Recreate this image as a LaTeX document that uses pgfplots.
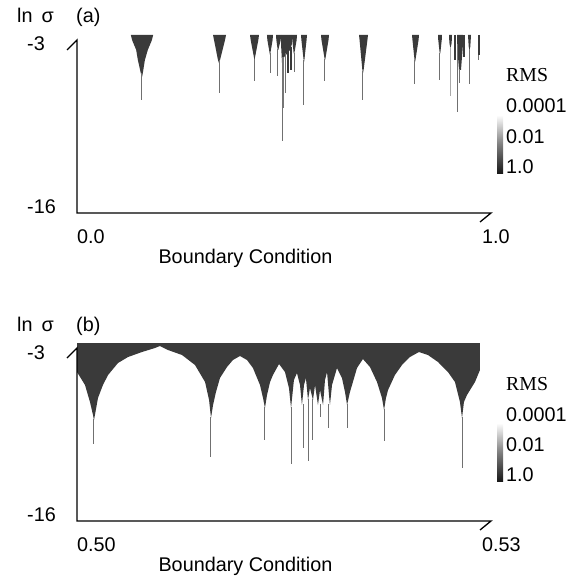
\documentclass[border=0pt]{standalone}
\usepackage{pgfplots}
\pgfplotsset{compat=1.18}
\usepackage{fontspec}
\setmainfont{Liberation Sans}
\newfontfamily\seriffont{Liberation Serif}
\definecolor{ice}{HTML}{3A3A3A}
\definecolor{needle}{HTML}{707070}
\pgfplotsset{
  panel/.style={anchor=south west, scale only axis, width=414pt, height=178pt,
    ymin=-16, ymax=-2.624, axis lines=none, ticks=none, enlargelimits=false},
  solid/.style={draw=none, fill=ice, mark=none},
  ndl/.style={needle, line width=1pt, mark=none},
}
\begin{document}
\fontsize{19.8}{23}\selectfont
\begin{tikzpicture}
\path (0pt,0pt) rectangle (579pt,-578pt);
% ---------------- panel (a)
\begin{axis}[panel, at={(77pt,-213pt)}, xmin=0, xmax=1]
\addplot[solid] coordinates {(0.130,-2.624) (0.184,-2.624) (0.181,-3.0) (0.171,-3.75) (0.164,-4.50) (0.159,-5.48) (0.157,-5.78) (0.154,-5.48) (0.147,-4.50) (0.143,-3.75) (0.133,-3.0) (0.130,-2.624)};
\addplot[ndl] coordinates {(0.157,-5.5) (0.157,-7.51)};
\addplot[solid] coordinates {(0.3285,-2.624) (0.3599,-2.624) (0.3575,-3.0) (0.3455,-4.5) (0.3430,-4.73) (0.3405,-4.5) (0.331,-3.0) (0.3285,-2.624)};
\addplot[ndl] coordinates {(0.3430,-4.5) (0.3430,-6.98)};
\addplot[solid] coordinates {(0.4179,-2.624) (0.4396,-2.624) (0.4380,-3.0) (0.4300,-4.3) (0.4287,-4.50) (0.4274,-4.3) (0.4195,-3.0) (0.4179,-2.624)};
\addplot[ndl] coordinates {(0.4287,-4.4) (0.4287,-6.08)};
\addplot[solid] coordinates {(0.4589,-2.624) (0.4734,-2.624) (0.4725,-3.0) (0.4670,-4.0) (0.4662,-4.13) (0.4654,-4.0) (0.4598,-3.0) (0.4589,-2.624)};
\addplot[ndl] coordinates {(0.4662,-4.0) (0.4662,-5.48)};
\addplot[solid] coordinates {(0.4807,-2.624) (0.4928,-2.624) (0.4920,-3.0) (0.4862,-3.75) (0.4848,-3.75) (0.4815,-3.0) (0.4807,-2.624)};
\addplot[ndl] coordinates {(0.4855,-3.7) (0.4855,-5.71)};
\addplot[solid] coordinates {(0.4928,-2.624) (0.5193,-2.624) (0.5193,-3.3) (0.5145,-3.75) (0.5000,-4.3) (0.4976,-4.73) (0.4952,-4.73) (0.4928,-3.3) (0.4928,-2.624)};
\addplot[ndl] coordinates {(0.4952,-4.6) (0.4952,-10.59)};
\addplot[ice!70, line width=2pt, mark=none] coordinates {(0.4985,-4.3) (0.4985,-8.11)};
\addplot[ndl] coordinates {(0.5048,-4.0) (0.5048,-6.98)};
\addplot[ice, line width=1.5pt, mark=none] coordinates {(0.5097,-3.7) (0.5097,-5.48)};
\addplot[ice, line width=1.5pt, mark=none] coordinates {(0.5169,-3.5) (0.5169,-5.25)};
\addplot[solid] coordinates {(0.5193,-2.624) (0.5314,-2.624) (0.5305,-3.0) (0.5250,-4.0) (0.5234,-4.0) (0.5200,-3.0) (0.5193,-2.624)};
\addplot[ndl] coordinates {(0.5242,-4.0) (0.5242,-5.40)};
\addplot[solid] coordinates {(0.5411,-2.624) (0.5556,-2.624) (0.5545,-3.0) (0.5492,-4.5) (0.5483,-4.65) (0.5474,-4.5) (0.5420,-3.0) (0.5411,-2.624)};
\addplot[ndl] coordinates {(0.5483,-4.5) (0.5483,-7.88)};
\addplot[solid] coordinates {(0.5894,-2.624) (0.6087,-2.624) (0.6075,-3.0) (0.6000,-4.4) (0.5990,-4.50) (0.5980,-4.4) (0.5905,-3.0) (0.5894,-2.624)};
\addplot[ndl] coordinates {(0.5990,-4.4) (0.5990,-6.08)};
\addplot[solid] coordinates {(0.6812,-2.624) (0.7029,-2.624) (0.7015,-3.0) (0.6925,-5.2) (0.6908,-5.48) (0.6891,-5.2) (0.6825,-3.0) (0.6812,-2.624)};
\addplot[ndl] coordinates {(0.6908,-5.3) (0.6908,-7.51)};
\addplot[solid] coordinates {(0.8092,-2.624) (0.8261,-2.624) (0.8250,-3.0) (0.8175,-4.5) (0.8164,-4.65) (0.8153,-4.5) (0.8103,-3.0) (0.8092,-2.624)};
\addplot[ndl] coordinates {(0.8164,-4.5) (0.8164,-6.31)};
\addplot[solid] coordinates {(0.8720,-2.624) (0.8816,-2.624) (0.8810,-3.0) (0.8775,-4.0) (0.8761,-4.0) (0.8726,-3.0) (0.8720,-2.624)};
\addplot[ndl] coordinates {(0.8768,-4.0) (0.8768,-6.01)};
\addplot[solid] coordinates {(0.8986,-2.624) (0.9058,-2.624) (0.9050,-3.2) (0.9030,-3.53) (0.9014,-3.53) (0.8994,-3.2) (0.8986,-2.624)};
\addplot[needle!60, line width=1pt, mark=none] coordinates {(0.9022,-3.5) (0.9022,-7.21)};
\addplot[ice, line width=1.8pt, mark=none] coordinates {(0.9130,-2.624) (0.9130,-4.50)};
\addplot[solid] coordinates {(0.9179,-2.624) (0.9324,-2.624) (0.9324,-3.3) (0.9275,-5.25) (0.9227,-5.25) (0.9179,-3.3) (0.9179,-2.624)};
\addplot[ndl] coordinates {(0.9185,-3.3) (0.9185,-8.41)};
\addplot[ndl] coordinates {(0.9251,-5.2) (0.9251,-6.23)};
\addplot[ice, line width=2pt, mark=none] coordinates {(0.9348,-2.624) (0.9348,-4.28)};
\addplot[solid] coordinates {(0.9444,-2.624) (0.9517,-2.624) (0.9500,-3.5) (0.9481,-3.75) (0.9462,-3.5) (0.9444,-2.624)};
\addplot[ndl] coordinates {(0.9481,-3.7) (0.9481,-6.31)};
\addplot[ice, line width=2pt, mark=none] coordinates {(0.9710,-2.624) (0.9710,-4.13)};
\addplot[ndl] coordinates {(0.9710,-4.1) (0.9710,-4.50)};
\end{axis}
% ---------------- panel (b)
\begin{axis}[panel, at={(77pt,-521pt)}, xmin=0.50, xmax=0.53]
\addplot[solid] coordinates {
(0.50000,-2.624) (0.50000,-4.803) (0.50058,-5.780) (0.50094,-7.058) (0.50116,-8.035) (0.50123,-8.410)
(0.50130,-8.035) (0.50152,-6.757) (0.50188,-5.780) (0.50225,-5.029) (0.50297,-4.127) (0.50370,-3.676)
(0.50471,-3.301) (0.50565,-3.000) (0.50601,-2.850) (0.50659,-3.150) (0.50761,-3.526) (0.50855,-4.277)
(0.50928,-5.555) (0.50957,-6.907) (0.50971,-8.260) (0.50986,-7.283) (0.51007,-6.306) (0.51036,-5.254)
(0.51087,-4.428) (0.51130,-3.902) (0.51181,-3.601) (0.51232,-3.902) (0.51275,-4.503) (0.51326,-5.780)
(0.51348,-6.757) (0.51362,-7.509) (0.51377,-6.532) (0.51399,-5.555) (0.51420,-5.029) (0.51464,-4.202)
(0.51507,-4.803) (0.51536,-6.006) (0.51551,-7.509) (0.51572,-5.405) (0.51594,-4.879) (0.51616,-5.780)
(0.51630,-7.283) (0.51645,-5.780) (0.51659,-5.254) (0.51674,-6.907) (0.51688,-6.006) (0.51710,-6.907)
(0.51725,-5.780) (0.51746,-7.283) (0.51761,-6.156) (0.51783,-7.283) (0.51797,-5.405) (0.51812,-4.803)
(0.51826,-6.532) (0.51833,-7.283) (0.51848,-5.780) (0.51884,-4.503) (0.51920,-5.254) (0.51942,-6.306)
(0.51957,-7.283) (0.51978,-6.306) (0.51993,-5.780) (0.52029,-4.503) (0.52072,-3.827) (0.52123,-4.428)
(0.52174,-5.555) (0.52210,-6.757) (0.52225,-7.659) (0.52239,-6.757) (0.52254,-6.156) (0.52304,-5.029)
(0.52355,-4.277) (0.52413,-3.676) (0.52478,-3.301) (0.52543,-3.526) (0.52616,-4.052) (0.52688,-4.803)
(0.52739,-5.555) (0.52775,-7.058) (0.52790,-8.260) (0.52804,-7.058) (0.52826,-6.532) (0.52884,-5.555)
(0.52920,-4.653) (0.52920,-2.624) (0.50000,-2.624)};
\addplot[ndl] coordinates {(0.50123,-8.3) (0.50123,-10.25)};
\addplot[ndl] coordinates {(0.50971,-8.2) (0.50971,-11.19)};
\addplot[ndl] coordinates {(0.51362,-7.4) (0.51362,-9.91)};
\addplot[ndl] coordinates {(0.51551,-7.4) (0.51551,-11.72)};
\addplot[ndl] coordinates {(0.51638,-7.2) (0.51638,-10.51)};
\addplot[ndl] coordinates {(0.51674,-6.8) (0.51674,-11.49)};
\addplot[ndl] coordinates {(0.51710,-6.8) (0.51710,-9.91)};
\addplot[ndl] coordinates {(0.51768,-7.2) (0.51768,-8.19)};
\addplot[ndl] coordinates {(0.51826,-7.2) (0.51826,-9.01)};
\addplot[ndl] coordinates {(0.51957,-7.2) (0.51957,-9.01)};
\addplot[ndl] coordinates {(0.52225,-7.6) (0.52225,-9.99)};
\addplot[ndl] coordinates {(0.52790,-8.2) (0.52790,-12.02)};
\end{axis}
% ---------------- frames and text
\foreach \dy/\lab/\xa/\xb in {0/(a)/0.0/1.0, 308/(b)/0.50/0.53}{
  \draw[line width=1.3pt] (67pt,-50pt-\dy pt) -- (77pt,-40pt-\dy pt) -- (77pt,-213pt-\dy pt) -- (491pt,-213pt-\dy pt) -- (480pt,-222pt-\dy pt);
  \node[anchor=base west, inner sep=0pt] at (17pt,-23pt-\dy pt) {ln\hspace{9pt}σ};
  \node[anchor=base west, inner sep=0pt] at (76pt,-23pt-\dy pt) {\lab};
  \node[anchor=base west, inner sep=0pt] at (27pt,-51pt-\dy pt) {-3};
  \node[anchor=base west, inner sep=0pt] at (27pt,-213pt-\dy pt) {-16};
  \node[anchor=base west, inner sep=0pt] at (77pt,-243pt-\dy pt) {\xa};
  \node[anchor=base west, inner sep=0pt] at (482pt,-243pt-\dy pt) {\xb};
  \node[anchor=base, inner sep=0pt] at (245.5pt,-263pt-\dy pt) {Boundary Condition};
  \shade[top color=white, bottom color=black!90, middle color=gray] (497pt,-115pt-\dy pt) rectangle (503pt,-173pt-\dy pt);
  \node[anchor=base west, inner sep=0pt, font=\seriffont] at (506pt,-82pt-\dy pt) {RMS};
  \node[anchor=base west, inner sep=0pt] at (506pt,-113pt-\dy pt) {0.0001};
  \node[anchor=base west, inner sep=0pt] at (506pt,-143pt-\dy pt) {0.01};
  \node[anchor=base west, inner sep=0pt] at (506pt,-173pt-\dy pt) {1.0};
}
\end{tikzpicture}
\end{document}
